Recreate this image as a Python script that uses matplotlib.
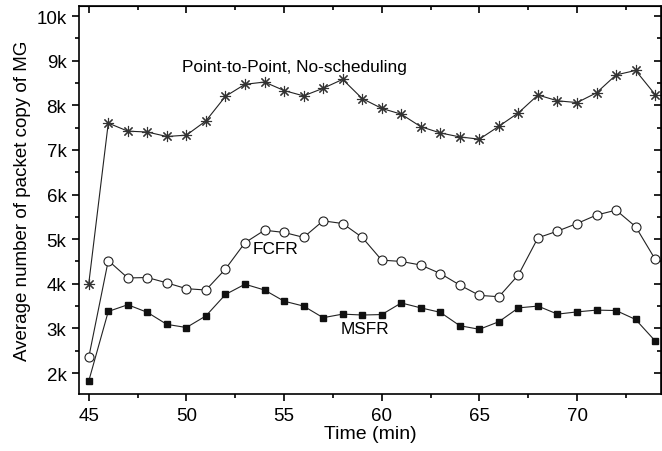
import matplotlib.pyplot as plt
from matplotlib.ticker import FuncFormatter, MultipleLocator

plt.rcParams['font.family'] = ['Liberation Sans', 'DejaVu Sans']

time = list(range(45, 75))
p2p = [4000, 7600, 7420, 7400, 7300, 7330, 7650, 8200, 8470, 8520,
       8330, 8210, 8380, 8580, 8150, 7930, 7800, 7520, 7380, 7290,
       7240, 7530, 7830, 8230, 8100, 8060, 8280, 8680, 8780, 8240]
fcfr = [2350, 4520, 4130, 4140, 4020, 3890, 3860, 4330, 4920, 5200,
        5150, 5040, 5410, 5350, 5040, 4530, 4500, 4420, 4230, 3970,
        3740, 3710, 4200, 5030, 5180, 5350, 5540, 5650, 5280, 4550]
msfr = [1820, 3380, 3530, 3360, 3090, 3020, 3280, 3760, 3990, 3860,
        3610, 3500, 3240, 3320, 3300, 3310, 3570, 3460, 3360, 3060,
        2980, 3150, 3460, 3500, 3320, 3370, 3410, 3400, 3200, 2720]

fig = plt.figure(figsize=(6.62, 4.52), dpi=100)
ax = fig.add_axes([0.1193, 0.1261, 0.8792, 0.8584])

ax.plot(time, p2p, color='#222222', lw=0.8, marker=(8, 2, 0), ms=8,
        mec='#333333', mew=0.8)
ax.plot(time, fcfr, color='#222222', lw=0.8, marker='o', ms=6.5,
        mfc='white', mec='#222222', mew=0.8)
ax.plot(time, msfr, color='#222222', lw=0.8, marker='s', ms=5,
        mfc='#111111', mec='#111111')

ax.text(49.77, 8868, 'Point-to-Point, No-scheduling', fontsize=12.4, va='center')
ax.text(53.39, 4796, 'FCFR', fontsize=12.4, va='center')
ax.text(57.92, 3007, 'MSFR', fontsize=12.4, va='center')

ax.set_xlim(44.5, 74.3)
ax.set_ylim(1530, 10224)
ax.xaxis.set_major_locator(MultipleLocator(5))
ax.xaxis.set_minor_locator(MultipleLocator(2.5))
ax.yaxis.set_major_locator(MultipleLocator(1000))
ax.yaxis.set_minor_locator(MultipleLocator(500))
ax.yaxis.set_major_formatter(FuncFormatter(lambda v, p: '%dk' % round(v / 1000)))
ax.tick_params(which='both', direction='out', labelsize=13.5, width=1.2, pad=4)
ax.tick_params(which='major', length=5)
ax.tick_params(which='minor', length=3)

top = ax.secondary_xaxis('top')
top.xaxis.set_major_locator(MultipleLocator(5))
top.xaxis.set_minor_locator(MultipleLocator(2.5))
top.tick_params(which='both', direction='in', labeltop=False, width=1.2)
top.tick_params(which='major', length=5)
top.tick_params(which='minor', length=3)
right = ax.secondary_yaxis('right')
right.yaxis.set_major_locator(MultipleLocator(1000))
right.yaxis.set_minor_locator(MultipleLocator(500))
right.tick_params(which='both', direction='in', labelright=False, width=1.2)
right.tick_params(which='major', length=5)
right.tick_params(which='minor', length=3)

for s in ax.spines.values():
    s.set_linewidth(1.2)

ax.set_xlabel('Time (min)', fontsize=14, labelpad=1)
ax.set_ylabel('Average number of packet copy of MG', fontsize=13.5, labelpad=4)

fig.savefig('out.png', dpi=100)
